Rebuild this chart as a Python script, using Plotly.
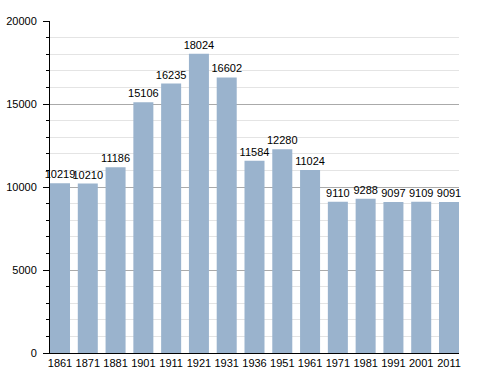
import plotly.graph_objects as go

years = ["1861", "1871", "1881", "1901", "1911", "1921", "1931", "1936",
         "1951", "1961", "1971", "1981", "1991", "2001", "2011"]
population = [10219, 10210, 11186, 15106, 16235, 18024, 16602, 11584,
              12280, 11024, 9110, 9288, 9097, 9109, 9091]
y_ticks = [0, 5000, 10000, 15000, 20000]
y_tick_labels = ["0", "5000", "10000", "15000", "20000"]

w = 0.72
fig = go.Figure(go.Bar(
    x=years, y=population,
    text=[str(v) for v in population],
    textposition="outside",
    constraintext="none",
    cliponaxis=False,
    textfont=dict(family="Liberation Sans, Arial", size=11, color="#000"),
    marker=dict(color="#9ab3cd", line=dict(width=0)),
    width=w,
))

fig.update_layout(
    width=488, height=373,
    margin=dict(l=50, r=29, t=21, b=20, autoexpand=False),
    plot_bgcolor="white", paper_bgcolor="white",
    showlegend=False,
    font=dict(family="Liberation Sans, Arial", size=11, color="#000"),
)
fig.update_xaxes(
    type="category", automargin=False,
    range=[-w / 2, len(years) - 1 + w / 2],
    showline=True, linecolor="#000", linewidth=1,
    ticks="", showgrid=False,
    tickfont=dict(size=11, color="#000"),
)
fig.update_yaxes(
    range=[0, 20000], automargin=False,
    tickvals=y_ticks, ticktext=y_tick_labels,
    showline=True, linecolor="#000", linewidth=1,
    ticks="outside", ticklen=6, tickcolor="#000",
    ticklabelstandoff=4,
    showgrid=True, gridcolor="#aaaaaa", gridwidth=1,
    zeroline=False,
    minor=dict(dtick=1000, ticks="outside", ticklen=3, tickcolor="#000",
               showgrid=True, gridcolor="#e4e4e4", gridwidth=1),
    tickfont=dict(size=11, color="#000"),
)

fig.write_html(
    "out.html",
    config={"displayModeBar": False},
    post_script="document.body.style.margin='0';document.body.style.overflow='hidden';",
)
